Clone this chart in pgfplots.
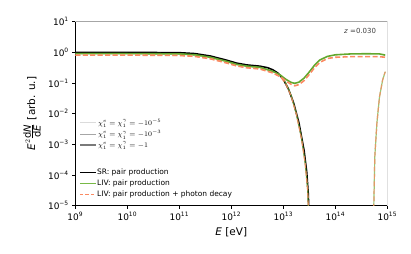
\documentclass[border=0pt]{standalone}
\usepackage{pgfplots}
\pgfplotsset{compat=1.18}
\usepackage{pgfplotstable}
\usepackage{fontspec}
\setmainfont{DejaVu Sans}
\definecolor{livgreen}{RGB}{98,168,46}
\definecolor{livorange}{RGB}{250,138,98}
\definecolor{leggreen}{RGB}{120,185,70}

% SR: pair production
\pgfplotstableread{
x y
1e9 1.0
1e10 1.0
1e11 0.977
2.0e11 0.912
3.98e11 0.759
7.94e11 0.562
1.26e12 0.447
2.0e12 0.389
3.55e12 0.355
5.01e12 0.316
6.31e12 0.269
7.94e12 0.209
1e13 0.132
1.26e13 0.0631
1.58e13 0.0224
2.0e13 0.005
2.51e13 6.3e-4
2.82e13 1.26e-4
3.02e13 2.51e-5
3.16e13 2.5e-6
}\sr

% LIV pair production, chi=-1
\pgfplotstableread{
x y
1e9 0.912
1e10 0.912
1e11 0.891
2.0e11 0.832
3.98e11 0.692
7.94e11 0.513
1.26e12 0.407
2.0e12 0.355
3.55e12 0.324
6.31e12 0.240
8.91e12 0.178
1.12e13 0.132
1.41e13 0.105
1.66e13 0.0977
2.0e13 0.107
2.51e13 0.145
3.16e13 0.229
3.98e13 0.380
5.01e13 0.562
7.08e13 0.741
1e14 0.832
2e14 0.891
3.98e14 0.902
7.08e14 0.891
9.12e14 0.813
}\gA

% LIV pair production, chi=-1e-3
\pgfplotstableread{
x y
1e9 0.912
1e10 0.912
1e11 0.891
2.0e11 0.832
3.98e11 0.692
7.94e11 0.513
1.26e12 0.407
2.0e12 0.355
3.55e12 0.324
6.31e12 0.240
8.91e12 0.178
1.12e13 0.1
1.41e13 0.0398
1.78e13 0.01
2.24e13 0.00158
2.63e13 2.51e-4
2.95e13 3.16e-5
3.16e13 1e-6
5.25e14 1e-6
5.5e14 1e-5
5.75e14 3.98e-4
6.31e14 0.005
7.08e14 0.0355
8.13e14 0.126
9.12e14 0.234
}\gB

% LIV pair production, chi=-1e-5
\pgfplotstableread{
x y
1e9 0.912
1e10 0.912
1e11 0.891
2.0e11 0.832
3.98e11 0.692
7.94e11 0.513
1.26e12 0.407
2.0e12 0.355
3.55e12 0.324
6.31e12 0.240
8.91e12 0.178
1.12e13 0.1
1.41e13 0.0398
1.78e13 0.01
2.24e13 0.00158
2.63e13 2.51e-4
2.95e13 3.16e-5
3.16e13 1e-6
}\gC

% LIV pair production + photon decay, chi=-1
\pgfplotstableread{
x y
1e9 0.813
1e10 0.813
1e11 0.794
2.0e11 0.741
3.98e11 0.617
7.94e11 0.457
1.26e12 0.363
2.0e12 0.316
3.55e12 0.288
6.31e12 0.214
8.91e12 0.158
1.12e13 0.117
1.41e13 0.0912
1.66e13 0.0813
2.0e13 0.0891
2.51e13 0.120
3.16e13 0.191
3.98e13 0.316
5.01e13 0.468
7.08e13 0.631
1e14 0.692
2e14 0.724
3.98e14 0.724
7.08e14 0.724
9.12e14 0.692
}\oA

% LIV pair production + photon decay, chi=-1e-3
\pgfplotstableread{
x y
1e9 0.813
1e10 0.813
1e11 0.794
2.0e11 0.741
3.98e11 0.617
7.94e11 0.457
1.26e12 0.363
2.0e12 0.316
3.55e12 0.288
6.31e12 0.214
8.91e12 0.158
1.12e13 0.0912
1.41e13 0.0380
1.78e13 0.0095
2.24e13 0.0015
2.63e13 2.4e-4
2.95e13 3.0e-5
3.16e13 1e-6
5.25e14 1e-6
5.5e14 1e-5
5.75e14 3.98e-4
6.31e14 0.005
7.08e14 0.0355
8.13e14 0.126
9.12e14 0.234
}\oB

% LIV pair production + photon decay, chi=-1e-5
\pgfplotstableread{
x y
1e9 0.813
1e10 0.813
1e11 0.794
2.0e11 0.741
3.98e11 0.617
7.94e11 0.457
1.26e12 0.363
2.0e12 0.316
3.55e12 0.288
6.31e12 0.214
8.91e12 0.158
1.12e13 0.0912
1.41e13 0.0380
1.78e13 0.0095
2.24e13 0.0015
2.63e13 2.4e-4
2.95e13 3.0e-5
3.16e13 1e-6
}\oC

\pgfplotsset{
  mylegend/.style={draw=none, fill=none,
    font=\fontsize{7.5}{8.5}\selectfont, row sep=1.6pt, inner sep=0pt,
    nodes={inner xsep=0.6pt, inner ysep=1pt}},
}

\begin{document}
\begin{tikzpicture}
\useasboundingbox (-75.3bp,-48.3bp) rectangle (335.7bp,205.7bp);
\begin{axis}[
  at={(0,0)}, anchor=south west,
  scale only axis, width=312bp, height=184bp,
  xmode=log, ymode=log,
  xmin=1e9, xmax=1e15, ymin=1e-5, ymax=1e1,
  axis x line*=bottom, axis y line*=left,
  axis line style={-, black, line width=0.8pt},
  xtick={1e9,1e10,1e11,1e12,1e13,1e14,1e15},
  xticklabels={10\textsuperscript{9},10\textsuperscript{10},10\textsuperscript{11},10\textsuperscript{12},10\textsuperscript{13},10\textsuperscript{14},10\textsuperscript{15}},
  ytick={1e-5,1e-4,1e-3,1e-2,1e-1,1e0,1e1},
  yticklabels={10\textsuperscript{−5},10\textsuperscript{−4},10\textsuperscript{−3},10\textsuperscript{−2},10\textsuperscript{−1},10\textsuperscript{0},10\textsuperscript{1}},
  tick align=outside, major tick length=3bp, minor tick length=0pt,
  tick style={black, line width=0.6pt},
  ticklabel style={font=\fontsize{9}{10}\selectfont},
  xlabel={\textit{E} [eV]},
  ylabel={$\mbox{\itshape E}^{2}\frac{\mbox{\fontsize{10}{11}\selectfont d\itshape N}}{\mbox{\fontsize{10}{11}\selectfont d\itshape E}}$ [arb. u.]},
  label style={font=\fontsize{10.5}{12}\selectfont},
  xlabel style={at={(axis description cs:0.5,-0.143)}, anchor=center},
  ylabel style={at={(axis description cs:-0.139,0.5)}, anchor=center},
  legend style={mylegend, at={(rel axis cs:0.012,0.478)}, anchor=north west},
  legend cell align=left,
  legend image code/.code={\draw[#1] (0bp,0bp) -- (16bp,0bp);},
]
\addlegendimage{color=black!14, line width=1pt}
\addlegendentry{\fontsize{7.2}{8}\selectfont$\chi_1^{e} = \chi_1^{\gamma} = -10^{-5}$}
\addlegendimage{color=black!35, line width=1.5pt}
\addlegendentry{\fontsize{7.2}{8}\selectfont$\chi_1^{e} = \chi_1^{\gamma} = -10^{-3}$}
\addlegendimage{color=black!52, line width=2.3pt}
\addlegendentry{\fontsize{7.2}{8}\selectfont$\chi_1^{e} = \chi_1^{\gamma} = -1$}

\addplot[forget plot, black, line width=1.6pt] table[x=x,y=y] {\sr};
\addplot[forget plot, livgreen, opacity=0.35, line width=0.8pt] table[x=x,y=y] {\gC};
\addplot[forget plot, livgreen, opacity=0.65, line width=1.2pt] table[x=x,y=y] {\gB};
\addplot[forget plot, livgreen, line width=1.6pt] table[x=x,y=y] {\gA};
\addplot[forget plot, livorange, opacity=0.35, line width=0.8pt, dash pattern=on 5pt off 2.5pt] table[x=x,y=y] {\oC};
\addplot[forget plot, livorange, opacity=0.75, line width=1.2pt, dash pattern=on 5pt off 2.5pt] table[x=x,y=y] {\oB};
\addplot[forget plot, livorange, line width=1.6pt, dash pattern=on 5pt off 2.5pt] table[x=x,y=y] {\oA};

\draw[black!35, line width=0.6pt] (rel axis cs:0,1) -- (rel axis cs:1,1) -- (rel axis cs:1,0);
\node[anchor=east, font=\fontsize{7}{8}\selectfont, text=black!75] at (rel axis cs:0.975,0.95) {\textit{z} =0.030};
\end{axis}
\begin{axis}[
  at={(0,0)}, anchor=south west,
  scale only axis, width=312bp, height=184bp,
  xmin=0, xmax=1, ymin=0, ymax=1,
  hide axis,
  legend style={mylegend, at={(rel axis cs:0.012,0.205)}, anchor=north west},
  legend cell align=left,
  legend image code/.code={\draw[#1] (0bp,0bp) -- (16bp,0bp);},
]
\addlegendimage{color=black, line width=1pt}
\addlegendentry{SR: pair production}
\addlegendimage{color=leggreen, line width=1.3pt}
\addlegendentry{LIV: pair production}
\addlegendimage{color=livorange, line width=1.3pt, dash pattern=on 3.5pt off 2pt}
\addlegendentry{LIV: pair production + photon decay}
\end{axis}
\end{tikzpicture}
\end{document}
